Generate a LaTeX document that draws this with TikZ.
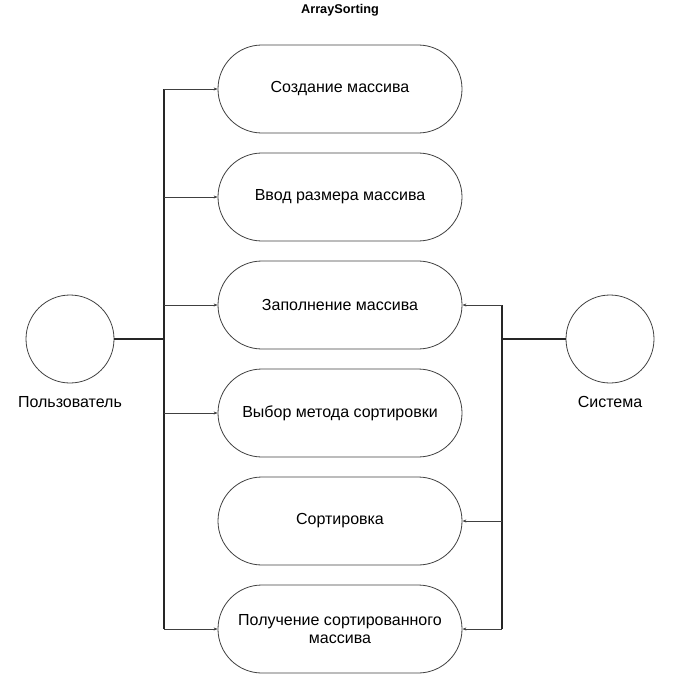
\documentclass[tikz,border=0pt]{standalone}
\usepackage{fontspec}
\setmainfont{Liberation Sans}
\usetikzlibrary{arrows.meta}
\begin{document}
\begin{tikzpicture}[x=1pt,y=-1pt,
  usecase/.style={draw=black!75, line width=0.8pt, rounded corners=43.9pt, minimum width=244pt, minimum height=88pt, inner sep=0pt, font=\fontsize{16}{18.5}\selectfont, align=center},
  actor/.style={draw=black!75, line width=0.8pt, circle, minimum size=88pt, inner sep=0pt},
  alabel/.style={font=\fontsize{16}{18.5}\selectfont},
  link/.style={draw=black!75, line width=0.8pt},
  vlink/.style={draw=black!85, line width=1.1pt},
  thicklink/.style={draw=black!85, line width=1.6pt},
  arr/.style={link, -{Stealth[length=4pt,width=3pt]}}]
\useasboundingbox (0,0) rectangle (687,677);
\node[font=\bfseries\fontsize{12.7}{14}\selectfont] (title) at (340,10) {ArraySorting};
\node[usecase] (uc1) at (340,89) {Создание массива};
\node[usecase] (uc2) at (340,197) {Ввод размера массива};
\node[usecase] (uc3) at (340,305) {Заполнение массива};
\node[usecase] (uc4) at (340,413) {Выбор метода сортировки};
\node[usecase] (uc5) at (340,521) {Сортировка};
\node[usecase] (uc6) at (340,629) {Получение сортированного\\массива};
\node[actor] (user) at (70,339) {};
\node[alabel] (userl) at (70,402) {Пользователь};
\node[actor] (sys) at (610,339) {};
\node[alabel] (sysl) at (610,402) {Система};
% left junction
\coordinate (jl) at (164,339);
\coordinate (jl1) at (164,89);
\coordinate (jl2) at (164,197);
\coordinate (jl3) at (164,305);
\coordinate (jl4) at (164,413);
\coordinate (jl6) at (164,629);
\draw[thicklink] (user.east) -- (jl);
\draw[vlink] (jl1) -- (jl6);
\draw[arr] (jl1) -- (uc1.west);
\draw[arr] (jl2) -- (uc2.west);
\draw[arr] (jl3) -- (uc3.west);
\draw[arr] (jl4) -- (uc4.west);
\draw[arr] (jl6) -- (uc6.west);
% right junction
\coordinate (jr) at (502,339);
\coordinate (jr3) at (502,305);
\coordinate (jr5) at (502,521);
\coordinate (jr6) at (502,629);
\draw[thicklink] (sys.west) -- (jr);
\draw[vlink] (jr3) -- (jr6);
\draw[arr] (jr3) -- (uc3.east);
\draw[arr] (jr5) -- (uc5.east);
\draw[arr] (jr6) -- (uc6.east);
\end{tikzpicture}
\end{document}
